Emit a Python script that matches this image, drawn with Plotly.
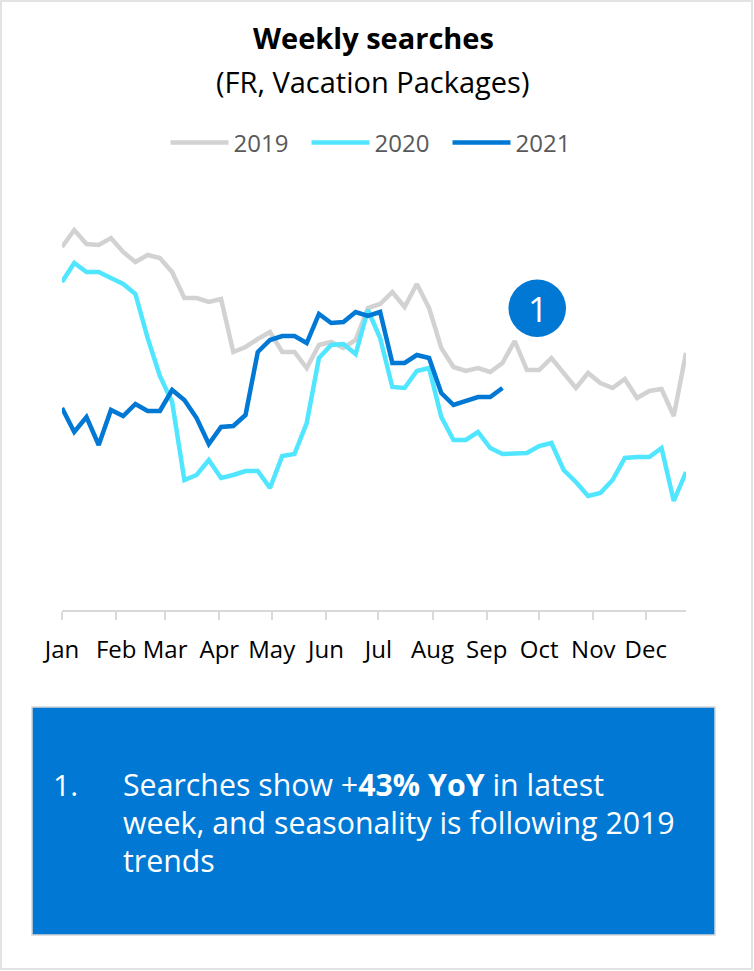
import pandas as pd
import plotly.graph_objects as go

# Weekly search volume index, 52 weeks per year (2021 runs through week 37)
weeks = pd.date_range("2021-01-01", periods=52, freq="7D")

searches_2019 = [
    362, 379, 365, 364, 371, 357, 347, 354, 351, 337, 311, 311, 307,
    310, 257, 262, 270, 277, 257, 257, 241, 264, 267, 261, 269, 301,
    305, 317, 302, 325, 301, 261, 242, 238, 241, 237, 246, 268, 239,
    239, 251, 236, 221, 236, 226, 221, 230, 211, 218, 220, 193, 256,
]
searches_2020 = [
    327, 346, 337, 337, 331, 325, 315, 271, 233, 207, 129, 134, 149,
    131, 134, 138, 138, 121, 153, 155, 186, 251, 264, 265, 255, 299,
    271, 222, 221, 238, 241, 192, 169, 169, 177, 161, 155, 156, 156,
    163, 166, 139, 127, 113, 116, 129, 151, 152, 152, 161, 108, 137,
]
searches_2021 = [
    201, 177, 192, 164, 199, 193, 205, 198, 198, 219, 209, 191, 165,
    182, 183, 194, 257, 269, 273, 273, 266, 295, 286, 287, 297, 293,
    297, 246, 246, 254, 251, 216, 204, 208, 212, 212, 221,
]

series_names = ["2019", "2020", "2021"]
series_colors = ["#D2D2D2", "#50E6FF", "#0078D4"]

W, H = 754, 971
L, R, T, B = 62, 68, 200, 361
PW, PH = W - L - R, H - T - B


def px(x):
    return (x - L) / PW


def py(y):
    return (H - B - y) / PH


fig = go.Figure()
for name, color, vals in zip(series_names, series_colors,
                             [searches_2019, searches_2020, searches_2021]):
    fig.add_trace(go.Scatter(
        x=weeks[:len(vals)], y=vals, name=name, mode="lines",
        line=dict(color=color, width=4.5),
        hoverinfo="skip",
    ))

font_main = "Open Sans, Noto Sans, sans-serif"

shapes = [
    # outer frame
    dict(type="rect", xref="paper", yref="paper",
         x0=px(1), x1=px(752), y0=py(1), y1=py(969),
         line=dict(color="#E3E3E3", width=2), fillcolor="rgba(0,0,0,0)", layer="below"),
    # callout badge
    dict(type="circle", xref="paper", yref="paper",
         x0=px(508.5), x1=px(566), y0=py(279.5), y1=py(337),
         fillcolor="#0078D4", line=dict(width=0)),
    # commentary box
    dict(type="rect", xref="paper", yref="paper",
         x0=px(32), x1=px(715), y0=py(707), y1=py(935),
         fillcolor="#0078D4", line=dict(color="#D6D6D6", width=1.5)),
]

annotations = [
    dict(text="<b>Weekly searches</b>", x=px(373), y=py(37), xref="paper", yref="paper",
         showarrow=False, xanchor="center", yanchor="middle",
         font=dict(size=29, color="#000000", family=font_main)),
    dict(text="(FR, Vacation Packages)", x=px(373), y=py(82), xref="paper", yref="paper",
         showarrow=False, xanchor="center", yanchor="middle",
         font=dict(size=29, color="#000000", family=font_main)),
    dict(text="1", x=px(537.5), y=py(308), xref="paper", yref="paper",
         showarrow=False, xanchor="center", yanchor="middle",
         font=dict(size=35, color="#FFFFFF", family=font_main)),
    dict(text="1.", x=px(51), y=py(784), xref="paper", yref="paper",
         showarrow=False, xanchor="left", yanchor="middle",
         font=dict(size=30, color="#FFFFFF", family=font_main)),
]
box_lines = [
    "Searches show +<b>43% YoY</b> in latest",
    "week, and seasonality is following 2019",
    "trends",
]
for i, line in enumerate(box_lines):
    annotations.append(dict(
        text=line, x=px(121), y=py(784 + 38 * i), xref="paper", yref="paper",
        showarrow=False, xanchor="left", yanchor="middle",
        font=dict(size=30.3, color="#FFFFFF", family=font_main)))

fig.update_layout(
    width=W, height=H,
    margin=dict(l=L, r=R, t=T, b=B, pad=0),
    paper_bgcolor="#FFFFFF", plot_bgcolor="#FFFFFF",
    font=dict(family=font_main),
    showlegend=True,
    legend=dict(
        orientation="h", xref="container", yref="container",
        x=0.5, xanchor="center", y=1 - 143 / H, yanchor="middle",
        font=dict(size=24, color="#595959", family=font_main),
        itemwidth=58, traceorder="normal",
        entrywidth=68, entrywidthmode="pixels",
        bgcolor="rgba(0,0,0,0)",
    ),
    xaxis=dict(
        type="date",
        range=[weeks[0], weeks[-1]],
        tickmode="linear", tick0="2021-01-01", dtick="M1", tickformat="%b",
        ticks="outside", ticklen=8, tickwidth=2, tickcolor="#D9D9D9",
        showline=True, linecolor="#D9D9D9", linewidth=2,
        showgrid=False, zeroline=False,
        tickfont=dict(size=24, color="#000000", family=font_main),
        ticklabelstandoff=9,
    ),
    yaxis=dict(range=[-1, 409], visible=False, showgrid=False, zeroline=False),
    shapes=shapes,
    annotations=annotations,
)

fig.write_html("out.html")
